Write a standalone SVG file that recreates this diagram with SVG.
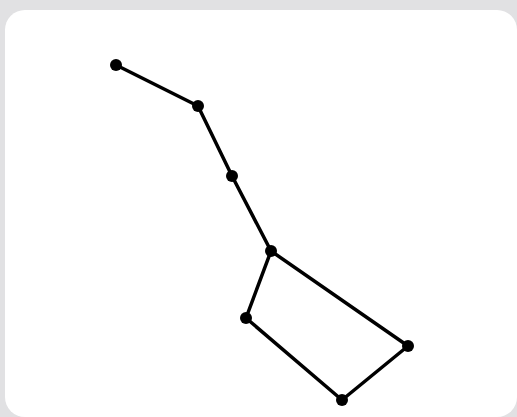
<svg xmlns="http://www.w3.org/2000/svg" width="517" height="417" viewBox="0 0 517 417">
<style>
.ln{fill:none;stroke:#000;stroke-width:3.5;stroke-linejoin:round}
.st{fill:#000}
</style>
<rect x="0" y="0" width="517" height="417" fill="#e1e1e3"/>
<rect x="5" y="10" width="512" height="407" rx="20" fill="#fff"/>
<g id="connectors">
<polyline class="ln" points="116,65 198,106 232,176 271,251 246,318 342,400 408,346 271,251"/>
</g>
<g id="star1"><circle class="st" cx="116" cy="65" r="6"/></g>
<g id="star2"><circle class="st" cx="198" cy="106" r="6"/></g>
<g id="star3"><circle class="st" cx="232" cy="176" r="6"/></g>
<g id="star4"><circle class="st" cx="271" cy="251" r="6"/></g>
<g id="star5"><circle class="st" cx="246" cy="318" r="6"/></g>
<g id="star6"><circle class="st" cx="342" cy="400" r="6"/></g>
<g id="star7"><circle class="st" cx="408" cy="346" r="6"/></g>
</svg>
